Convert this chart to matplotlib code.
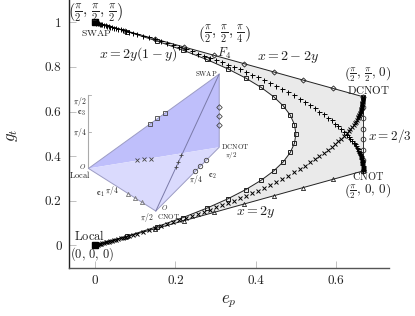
import matplotlib
matplotlib.use("Agg")
import matplotlib.pyplot as plt
from matplotlib.patches import Polygon

plt.rcParams["mathtext.fontset"] = "cm"
plt.rcParams["font.family"] = "cmr10"
plt.rcParams["axes.formatter.use_mathtext"] = True

# boundary lines of the region
upper_x = [0, 0.0741, 0.1481, 0.2222, 0.2963, 0.3704, 0.4444, 0.5185, 0.5926, 0.6667]
upper_y = [1, 0.9630, 0.9259, 0.8889, 0.8519, 0.8148, 0.7778, 0.7407, 0.7037, 0.6667]
lower_x = [0, 0.0741, 0.1481, 0.2222, 0.2963, 0.3704, 0.4444, 0.5185, 0.5926, 0.6667]
lower_y = [0, 0.0370, 0.0741, 0.1111, 0.1481, 0.1852, 0.2222, 0.2593, 0.2963, 0.3333]
right_x = [0.6667, 0.6667, 0.6667, 0.6667, 0.6667, 0.6667, 0.6667, 0.6667]
right_y = [0.6667, 0.619, 0.5714, 0.5238, 0.4762, 0.4286, 0.381, 0.3333]

# x = 2y(1-y)
para_x = [0, 0.0799, 0.1528, 0.2188, 0.2778, 0.3299, 0.375, 0.4132, 0.4444, 0.4688, 0.4861, 0.4965, 0.5,
          0.4965, 0.4861, 0.4688, 0.4444, 0.4132, 0.375, 0.3299, 0.2778, 0.2188, 0.1528, 0.0799, 0]
para_y = [0, 0.0417, 0.0833, 0.125, 0.1667, 0.2083, 0.25, 0.2917, 0.3333, 0.375, 0.4167, 0.4583, 0.5,
          0.5417, 0.5833, 0.625, 0.6667, 0.7083, 0.75, 0.7917, 0.8333, 0.875, 0.9167, 0.9583, 1]

# SWAP to CNOT curve
plus_x = [0, 0.003, 0.006, 0.009, 0.012, 0.015, 0.018, 0.022, 0.026, 0.03, 0.034, 0.038, 0.042, 0.047, 0.052, 0.058,
          0.064, 0.07, 0.077, 0.085, 0.094, 0.105, 0.12, 0.135, 0.15,
          0.165, 0.18, 0.195, 0.21, 0.225, 0.24, 0.255, 0.27, 0.285, 0.30, 0.315, 0.33, 0.345, 0.36, 0.375, 0.39,
          0.405, 0.42, 0.435, 0.45, 0.465, 0.48, 0.495, 0.51, 0.523, 0.535, 0.547, 0.558, 0.569, 0.58, 0.589, 0.598,
          0.606, 0.613, 0.62, 0.627, 0.632, 0.636, 0.64, 0.644, 0.647, 0.65, 0.652, 0.654, 0.656, 0.657, 0.658, 0.659,
          0.66, 0.661, 0.662, 0.6625, 0.663, 0.6635, 0.664, 0.6645, 0.665, 0.6652, 0.6655, 0.6657, 0.666, 0.6662,
          0.6663, 0.6664, 0.6665, 0.6666, 0.6667]
plus_y = [1, 0.9985, 0.997, 0.9955, 0.994, 0.9925, 0.991, 0.989, 0.987, 0.985, 0.983, 0.981, 0.979, 0.976, 0.974, 0.971,
          0.968, 0.965, 0.961, 0.957, 0.952, 0.947, 0.94, 0.932, 0.924,
          0.915, 0.906, 0.897, 0.888, 0.879, 0.87, 0.86, 0.85, 0.84, 0.83, 0.82, 0.81, 0.8, 0.789, 0.778, 0.766,
          0.754, 0.741, 0.728, 0.715, 0.702, 0.687, 0.672, 0.656, 0.642, 0.628, 0.614, 0.6, 0.587, 0.573, 0.56, 0.546,
          0.534, 0.522, 0.51, 0.497, 0.488, 0.479, 0.47, 0.461, 0.453, 0.445, 0.438, 0.431, 0.425, 0.42, 0.415, 0.41,
          0.405, 0.4, 0.396, 0.392, 0.388, 0.384, 0.38, 0.376, 0.372, 0.368, 0.364, 0.36, 0.356, 0.352,
          0.348, 0.344, 0.34, 0.337, 0.3333]

# Local to DCNOT curve
cross_x = [0, 0.003, 0.006, 0.009, 0.012, 0.015, 0.018, 0.022, 0.026, 0.03, 0.034, 0.038, 0.042, 0.047, 0.052, 0.058,
           0.064, 0.07, 0.077, 0.085, 0.094, 0.105, 0.12, 0.135, 0.15,
           0.165, 0.18, 0.195, 0.21, 0.225, 0.24, 0.255, 0.27, 0.285, 0.30, 0.315, 0.33, 0.345, 0.36, 0.375, 0.39,
           0.405, 0.42, 0.435, 0.45, 0.465, 0.48, 0.495, 0.51, 0.523, 0.535, 0.547, 0.558, 0.569, 0.58, 0.589, 0.598,
           0.606, 0.613, 0.62, 0.627, 0.632, 0.636, 0.64, 0.644, 0.647, 0.65, 0.652, 0.654, 0.656, 0.657, 0.658, 0.659,
           0.66, 0.661, 0.662, 0.6625, 0.663, 0.6635, 0.664, 0.6645, 0.665, 0.6652, 0.6655, 0.6657, 0.666, 0.6662,
           0.6663, 0.6664, 0.6665, 0.6666, 0.6667]
cross_y = [0, 0.0015, 0.003, 0.0045, 0.006, 0.0075, 0.009, 0.011, 0.013, 0.015, 0.017, 0.019, 0.021, 0.024, 0.026, 0.029,
           0.032, 0.035, 0.039, 0.043, 0.048, 0.053, 0.06, 0.068, 0.076,
           0.085, 0.094, 0.103, 0.112, 0.121, 0.13, 0.14, 0.15, 0.16, 0.17, 0.18, 0.19, 0.2, 0.211, 0.222, 0.234,
           0.246, 0.259, 0.272, 0.285, 0.298, 0.313, 0.328, 0.344, 0.358, 0.372, 0.386, 0.4, 0.413, 0.427, 0.44, 0.454,
           0.466, 0.478, 0.49, 0.503, 0.512, 0.521, 0.53, 0.539, 0.547, 0.555, 0.562, 0.569, 0.575, 0.58, 0.585, 0.59,
           0.595, 0.6, 0.604, 0.608, 0.612, 0.616, 0.62, 0.624, 0.628, 0.632, 0.636, 0.64, 0.644, 0.648,
           0.652, 0.656, 0.66, 0.663, 0.6667]

# inset tetrahedron corners, in the main axes units
local_pt = [-0.0167, 0.345]
cnot_pt = [0.151, 0.154]
dcnot_pt = [0.309, 0.44]
swap_pt = [0.309, 0.768]

inset_sq_x = [0.136, 0.155, 0.173]
inset_sq_y = [0.544, 0.569, 0.595]
inset_x_x = [0.1046, 0.122, 0.139]
inset_x_y = [0.384, 0.387, 0.388]
inset_plus_x = [0.201, 0.2075, 0.215]
inset_plus_y = [0.350, 0.375, 0.403]
inset_di_x = [0.309, 0.309, 0.309]
inset_di_y = [0.539, 0.580, 0.620]
inset_ci_x = [0.249, 0.262, 0.276]
inset_ci_y = [0.332, 0.357, 0.381]
inset_tr_x = [0.082, 0.0996, 0.117]
inset_tr_y = [0.230, 0.214, 0.193]

x_ticks = [0, 0.2, 0.4, 0.6]
y_ticks = [0, 0.2, 0.4, 0.6, 0.8, 1]

fig = plt.figure(figsize=(4.15, 3.16), dpi=100)
ax = fig.add_axes([68.5 / 415, 1 - 267.7 / 316, (389 - 68.5) / 415, 267.7 / 316])
ax.set_xlim(-0.0665, 0.732)
ax.set_ylim(-0.1, 1.1)

for s in ["top", "right"]:
    ax.spines[s].set_visible(False)
ax.spines["left"].set_linewidth(1.0)
ax.spines["bottom"].set_linewidth(1.0)
ax.spines["left"].set_color("#222222")
ax.spines["bottom"].set_color("#555555")
ax.set_xticks(x_ticks)
ax.set_yticks(y_ticks)
ax.set_xticklabels(["0", "0.2", "0.4", "0.6"])
ax.set_yticklabels(["0", "0.2", "0.4", "0.6", "0.8", "1"])
ax.tick_params(direction="in", length=5, width=0.6, color="#b5b5b5", labelsize=9.5, pad=5, labelcolor="#222222")

# grey region
ax.fill(upper_x + lower_x[::-1] + para_x[1:-1], upper_y + lower_y[::-1] + para_y[1:-1], color="#eaeaea", lw=0, zorder=1)

lc = "#222222"
ax.plot(upper_x, upper_y, color=lc, lw=0.7, marker="D", ms=2.6, mfc="none", mew=0.6, zorder=3, clip_on=False)
ax.plot(lower_x, lower_y, color=lc, lw=0.7, marker="^", ms=3.0, mfc="none", mew=0.6, zorder=3, clip_on=False)
ax.plot(right_x, right_y, color="#333333", lw=0.7, marker="o", ms=3.4, mfc="none", mew=0.6, zorder=3, clip_on=False)
ax.plot(para_x, para_y, color=lc, lw=0.7, marker="s", ms=3.2, mfc="none", mew=0.7, zorder=3, clip_on=False)
ax.plot(plus_x, plus_y, ls="none", color="black", marker="+", ms=3.6, mew=0.7, zorder=4, clip_on=False)
ax.plot(cross_x, cross_y, ls="none", color="black", marker="x", ms=2.6, mew=0.7, zorder=4, clip_on=False)
ax.plot([0, 0], [0, 1], ls="none", color="black", marker="s", ms=4, zorder=5, clip_on=False)

# inset tetrahedron
dark = "#bfbffb"
light = "#dadafd"
edge = "#9c9cc4"
ax.add_patch(Polygon([local_pt, swap_pt, dcnot_pt], fc=dark, ec="none", zorder=6))
ax.add_patch(Polygon([local_pt, cnot_pt, dcnot_pt], fc=light, ec="none", zorder=6))
ax.add_patch(Polygon([local_pt, swap_pt, dcnot_pt, cnot_pt], fc="none", ec=edge, lw=0.7, zorder=7))
ax.plot([cnot_pt[0], swap_pt[0]], [cnot_pt[1], swap_pt[1]], color="#7a7aa8", lw=0.7, zorder=7)

mk = "#444444"
ax.plot(inset_sq_x, inset_sq_y, ls="none", marker="s", ms=3.0, mfc="none", mec=mk, mew=0.6, zorder=8)
ax.plot(inset_x_x, inset_x_y, ls="none", marker="x", ms=2.4, color=mk, mew=0.6, zorder=8)
ax.plot(inset_plus_x, inset_plus_y, ls="none", marker="+", ms=3.2, color=mk, mew=0.6, zorder=8)
ax.plot(inset_di_x, inset_di_y, ls="none", marker="D", ms=2.8, mfc="none", mec=mk, mew=0.6, zorder=8)
ax.plot(inset_ci_x, inset_ci_y, ls="none", marker="o", ms=3.2, mfc="none", mec=mk, mew=0.6, zorder=8)
ax.plot(inset_tr_x, inset_tr_y, ls="none", marker="^", ms=3.0, mfc="none", mec="#777777", mew=0.6, zorder=8)

# c3 bracket next to the inset
ax.plot([-0.0167, -0.0167], [0.345, 0.674], color="#aaaaaa", lw=0.8, zorder=5)
ax.plot([-0.0167, -0.0105], [0.674, 0.674], color="#aaaaaa", lw=0.6, zorder=5)
ax.plot([-0.0167, -0.0105], [0.51, 0.51], color="#aaaaaa", lw=0.6, zorder=5)


def label(xp, yp, s, size=8.5, color="#222222", ha="center"):
    # xp, yp are pixels of the image, y going down
    ax.text((xp - 95) / 401.5, (245.3 - yp) / 223, s, fontsize=size, color=color, ha=ha, va="center", zorder=9)


label(96, 13, r"$\left(\frac{\pi}{2},\,\frac{\pi}{2},\,\frac{\pi}{2}\right)$", 11)
label(96, 33, r"$\mathrm{SWAP}$", 7)
label(138, 54, r"$x=2y(1-y)$", 10)
label(224, 34, r"$\left(\frac{\pi}{2},\,\frac{\pi}{2},\,\frac{\pi}{4}\right)$", 10.5)
label(224, 53, r"$F_4$", 9)
label(288, 57, r"$x=2-2y$", 10)
label(368, 75, r"$\left(\frac{\pi}{2},\,\frac{\pi}{2},\,0\right)$", 9.5)
label(368, 90, r"$\mathrm{DCNOT}$", 8)
label(390, 136, r"$x=2/3$", 9.5)
label(368, 176, r"$\mathrm{CNOT}$", 7.5)
label(368, 192, r"$\left(\frac{\pi}{2},\,0,\,0\right)$", 9.5)
label(256, 212, r"$x=2y$", 10)
label(89, 236, r"$\mathrm{Local}$", 9)
label(92, 254, r"$(0,\,0,\,0)$", 9)

# inset labels
label(206, 73.5, r"$\mathrm{SWAP}$", 5)
label(235, 146.5, r"$\mathrm{DCNOT}$", 5.2)
label(231, 155, r"$\pi/2$", 5)
label(82.5, 166, r"$O$", 5)
label(79, 174, r"$\mathrm{Local}$", 6)
label(164, 207, r"$O$", 5)
label(168, 216, r"$\mathrm{CNOT}$", 5.2)
label(146.5, 217, r"$\pi/2$", 5.5)
label(112, 190, r"$\pi/4$", 5.5)
label(100, 194, r"$\mathbf{c}_1$", 6)
label(196, 179, r"$\pi/4$", 5.5)
label(212, 176, r"$\mathbf{c}_2$", 6)
label(81, 113, r"$\mathbf{c}_3$", 6)
label(79.5, 101, r"$\pi/2$", 5.5)
label(79.5, 132, r"$\pi/4$", 5.5)

fig.text(12 / 415, 1 - 135 / 316, r"$g_t$", fontsize=12, ha="center", va="center", rotation=90, color="#222222")
fig.text(229 / 415, 1 - 302 / 316, r"$e_p$", fontsize=12, ha="center", va="center", color="#222222")

fig.savefig("out.png", dpi=100)
